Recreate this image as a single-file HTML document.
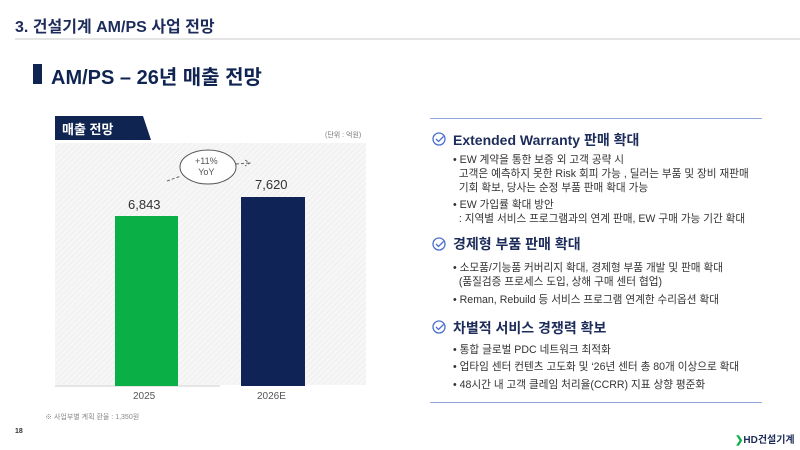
<!DOCTYPE html>
<html><head><meta charset="utf-8"><style>
body{margin:0;width:800px;height:450px;background:#fff;position:relative;overflow:hidden;font-family:"Liberation Sans","Noto Sans CJK KR",sans-serif;color:#222}
.a{position:absolute;white-space:nowrap}
.h{color:#1d2c5a;font-weight:bold;font-size:14px}
.b{font-size:10.6px;color:#333}
</style></head><body>
<div class="a" style="left:15px;top:13px;font-size:16px;font-weight:bold;color:#1d2c5a">3. 건설기계 AM/PS 사업 전망</div>
<div class="a" style="left:15px;top:38px;width:785px;height:2px;background:#e4e4e4"></div>
<div class="a" style="left:33px;top:64px;width:9px;height:20px;background:#0f2451"></div>
<div class="a" style="left:51px;top:61px;font-size:20px;font-weight:bold;color:#0f2451">AM/PS – 26년 매출 전망</div>
<svg class="a" style="left:0;top:0" width="420" height="450">
<defs><pattern id="p" width="4" height="4" patternUnits="userSpaceOnUse" patternTransform="rotate(45)"><rect width="4" height="4" fill="#f6f6f6"/><line x1="0" y1="0" x2="0" y2="4" stroke="#e8e8e8" stroke-width="1"/></pattern></defs>
<path d="M55 116 H143 L151 140 H55 Z" fill="#0f2451"/>
<rect x="55" y="143" width="311" height="242" fill="url(#p)"/>
<line x1="55" y1="386" x2="220" y2="386" stroke="#ccc"/>
<rect x="115" y="216" width="63" height="170" fill="#0aaf45"/>
<rect x="241" y="197" width="64" height="189" fill="#0f2357"/>
<ellipse cx="208" cy="167" rx="28" ry="17" fill="#fff" stroke="#555"/>
<path d="M167 181 L181 176" stroke="#666" stroke-dasharray="3,2" fill="none"/>
<path d="M236 164 L249 163 M245 160 L250 163 L245 166" stroke="#666" stroke-dasharray="3,2" fill="none"/>
</svg>
<div class="a" style="left:62px;top:119px;font-size:13px;font-weight:bold;color:#fff">매출 전망</div>
<div class="a" style="left:325px;top:130px;font-size:7px;color:#777">(단위 : 억원)</div>
<div class="a" style="left:195px;top:156px;font-size:9px;color:#555;text-align:center;line-height:11px">+11%<br>YoY</div>
<div class="a" style="left:128px;top:197px;font-size:13px;color:#333">6,843</div>
<div class="a" style="left:255px;top:177px;font-size:13px;color:#333">7,620</div>
<div class="a" style="left:133px;top:391px;font-size:10px;color:#555">2025</div>
<div class="a" style="left:257px;top:391px;font-size:10px;color:#555">2026E</div>
<div class="a" style="left:45px;top:412px;font-size:7px;color:#888">※ 사업부별 계획 환율 : 1,350원</div>
<div class="a" style="left:15px;top:428px;font-size:7px;font-weight:bold;color:#333">18</div>
<div class="a" style="left:735px;top:431px;font-size:10px;font-weight:bold;color:#1d2c5a"><span style="color:#0aaf45">❯</span>HD건설기계</div>
<div class="a" style="left:430px;top:118px;width:332px;height:1px;background:#8fa6d6"></div>
<div class="a" style="left:430px;top:402px;width:332px;height:1px;background:#8fa6d6"></div>
<svg class="a" style="left:0;top:0" width="800" height="450">
<g fill="none" stroke="#4a6fd0" stroke-width="1.3">
<circle cx="439" cy="139" r="6"/><path d="M436 139 l2.5 2.5 l5 -5"/>
<circle cx="439" cy="244" r="6"/><path d="M436 244 l2.5 2.5 l5 -5"/>
<circle cx="439" cy="327" r="6"/><path d="M436 327 l2.5 2.5 l5 -5"/>
</g></svg>
<div class="a h" style="left:453px;top:130px">Extended Warranty 판매 확대</div>
<div class="a b" style="left:453px;top:153px;line-height:14px">• EW 계약을 통한 보증 외 고객 공략 시<br>&nbsp;&nbsp;고객은 예측하지 못한 Risk 회피 가능 , 딜러는 부품 및 장비 재판매<br>&nbsp;&nbsp;기회 확보, 당사는 순정 부품 판매 확대 가능</div>
<div class="a b" style="left:453px;top:198px;line-height:14px">• EW 가입률 확대 방안<br>&nbsp;&nbsp;: 지역별 서비스 프로그램과의 연계 판매, EW 구매 가능 기간 확대</div>
<div class="a h" style="left:453px;top:234px">경제형 부품 판매 확대</div>
<div class="a b" style="left:453px;top:261px;line-height:14px">• 소모품/기능품 커버리지 확대, 경제형 부품 개발 및 판매 확대<br>&nbsp;&nbsp;(품질검증 프로세스 도입, 상해 구매 센터 협업)</div>
<div class="a b" style="left:453px;top:292px">• Reman, Rebuild 등 서비스 프로그램 연계한 수리옵션 확대</div>
<div class="a h" style="left:453px;top:318px">차별적 서비스 경쟁력 확보</div>
<div class="a b" style="left:453px;top:342px">• 통합 글로벌 PDC 네트워크 최적화</div>
<div class="a b" style="left:453px;top:359px">• 업타임 센터 컨텐츠 고도화 및 ‘26년 센터 총 80개 이상으로 확대</div>
<div class="a b" style="left:453px;top:377px">• 48시간 내 고객 클레임 처리율(CCRR) 지표 상향 평준화</div>
</body></html>
